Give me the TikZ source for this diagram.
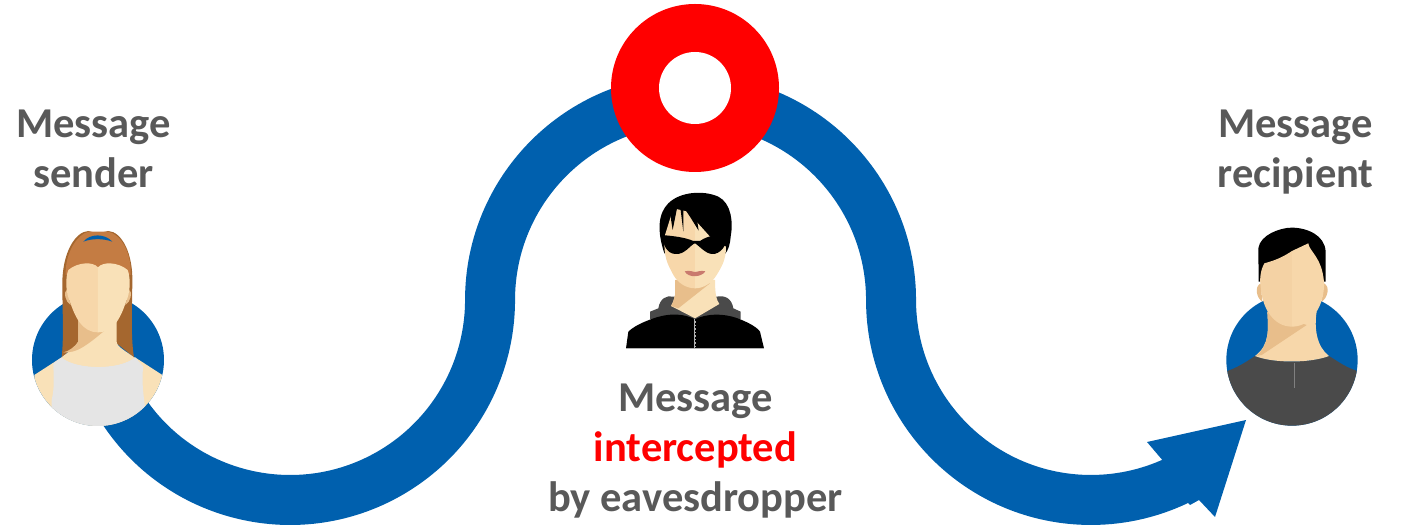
\documentclass[tikz,border=0pt]{standalone}
\usepackage{fontspec}
\setmainfont{Carlito}
\definecolor{bandblue}{HTML}{0060AE}
\definecolor{txtgray}{HTML}{595959}
\definecolor{skinA}{HTML}{F7D7AA}
\definecolor{skinB}{HTML}{F9E1B8}
\definecolor{skinS}{HTML}{E8BE8B}
\definecolor{hairD}{HTML}{A5672F}
\definecolor{hairL}{HTML}{C47C43}
\definecolor{shirtG}{HTML}{E5E5E5}
\definecolor{shirtD}{HTML}{4A4A4A}
\definecolor{lip}{HTML}{C97A6E}
\tikzset{
  lbl/.style={font=\fontsize{24.2}{26}\selectfont\bfseries,text=txtgray,inner sep=0pt,anchor=base},
  band/.style={draw=bandblue,line width=1cm,line cap=butt,line join=round},
  zoomed/.style={x=0.0066667cm,y=-0.0066667cm}
}
\begin{document}
\begin{tikzpicture}[x=0.02cm,y=-0.02cm]
\useasboundingbox (0,0) rectangle (1403,526);
% main band
\coordinate (bandstart) at (122.3,408.9);
\draw[band] (bandstart) arc[start angle=147,end angle=0,radius=200]
  arc[start angle=180,end angle=360,radius=200.5]
  arc[start angle=180,end angle=90,radius=200]
  arc[start angle=90,end angle=63,radius=200];
% arrow head
\fill[bandblue] (1246,420) -- (1147,442) -- (1164,462) -- (1160,472) -- (1190,505) -- (1199,500) -- (1215,517) -- cycle;
% interception ring
\fill[red] (695,88) circle[radius=84];
\fill[white] (695,88) circle[radius=36];
\node[lbl] (sendA) at (93.5,138) {Message};
\node[lbl] (sendB) at (93.5,188) {sender};
\node[lbl] (recA) at (1295.5,138) {Message};
\node[lbl] (recB) at (1295.5,188) {recipient};
\node[lbl] (eveA) at (695.5,412) {Message};
\node[lbl,text=red] (eveB) at (695.5,462) {intercepted};
\node[lbl] (eveC) at (695.5,512) {by eavesdropper};
% ---------- sender
\begin{scope}[shift={(0,210)},zoomed]
\fill[bandblue] (294,450) circle[radius=198];
\begin{scope}
\clip (294,450) circle[radius=198];
\fill[skinB] (103,495) -- (185,442) -- (405,442) -- (487,495) -- (487,700) -- (103,700) -- cycle;
\fill[shirtG] (185,442) .. controls (230,480) and (360,480) .. (405,442) -- (430,470) .. controls (425,500) and (428,540) .. (435,590) -- (435,700) -- (155,700) -- (155,570) .. controls (165,530) and (160,490) .. (160,460) -- cycle;
\end{scope}
\fill[hairD] (185,442) .. controls (192,380) and (187,300) .. (187,220) .. controls (187,130) and (225,65) .. (265,63) -- (294,70) -- (325,63) .. controls (365,65) and (400,130) .. (397,220) .. controls (396,300) and (392,380) .. (402,442) -- (350,400) -- (235,400) -- cycle;
\fill[skinB] (235,320) -- (235,395) .. controls (225,415) and (205,425) .. (185,442) .. controls (230,480) and (360,480) .. (402,442) .. controls (380,425) and (350,410) .. (350,395) -- (350,320) -- cycle;
\fill[skinS] (235,320) -- (235,395) .. controls (225,410) and (205,425) .. (190,427) .. controls (230,430) and (260,410) .. (350,330) -- cycle;
\fill[hairL] (197,195) .. controls (195,130) and (230,75) .. (265,65) -- (325,65) .. controls (365,75) and (395,130) .. (392,195) -- (294,170) -- cycle;
\fill[bandblue] (250,95) .. controls (270,70) and (315,70) .. (337,95) .. controls (310,85) and (275,85) .. (250,95) -- cycle;
\fill[skinS] (200,240) .. controls (190,245) and (195,275) .. (212,285) -- cycle;
\fill[skinS] (388,240) .. controls (398,245) and (393,275) .. (376,285) -- cycle;
\fill[skinA] (294,172) .. controls (280,155) and (235,155) .. (205,180) .. controls (195,205) and (198,250) .. (208,270) .. controls (225,320) and (245,367) .. (294,367) -- cycle;
\fill[skinB] (294,172) .. controls (308,155) and (353,155) .. (383,180) .. controls (393,205) and (390,250) .. (380,270) .. controls (363,320) and (343,367) .. (294,367) -- cycle;
\end{scope}
% ---------- eavesdropper
\begin{scope}[shift={(600,180)},zoomed]
\fill[shirtD] (150,418) -- (150,395) -- (175,385) .. controls (180,355) and (200,345) .. (220,350) -- (350,350) .. controls (375,345) and (395,355) .. (400,385) -- (422,395) -- (422,418) -- (285,430) -- cycle;
\fill[black] (78,505) -- (85,455) .. controls (105,435) and (145,420) .. (170,412) .. controls (210,400) and (250,400) .. (285,418) .. controls (320,400) and (370,400) .. (410,414) .. controls (440,425) and (470,440) .. (480,455) -- (492,505) -- cycle;
\fill[skinB] (225,300) -- (225,345) .. controls (222,360) and (218,370) .. (213,378) -- (285,415) -- (358,372) .. controls (350,360) and (345,345) .. (345,300) -- cycle;
\fill[skinS] (225,300) -- (225,345) .. controls (222,360) and (218,370) .. (213,378) -- (235,385) -- (330,310) -- cycle;
\fill[black] (193,220) .. controls (170,150) and (175,100) .. (205,70) .. controls (240,35) and (310,30) .. (355,50) .. controls (395,70) and (400,130) .. (392,170) .. controls (390,195) and (385,210) .. (375,222) -- cycle;
\fill[skinA] (285,100) -- (220,85) -- (195,165) .. controls (190,210) and (195,240) .. (215,275) .. controls (230,310) and (260,325) .. (285,325) -- cycle;
\fill[skinB] (285,120) -- (330,170) -- (378,200) .. controls (378,240) and (365,260) .. (350,285) .. controls (335,310) and (310,325) .. (285,325) -- cycle;
\fill[black] (208,85) -- (218,150) -- (232,80) -- (240,75) -- (250,155) -- (250,82) -- cycle;
\fill[black] (250,80) -- (270,110) -- (296,152) -- (292,125) -- (330,165) -- (380,170) -- (390,100) -- (320,50) -- cycle;
\fill[black] (185,165) .. controls (220,168) and (255,172) .. (280,183) -- (300,183) .. controls (325,165) and (355,165) .. (385,163) .. controls (382,195) and (360,225) .. (335,222) .. controls (315,220) and (295,195) .. (285,190) .. controls (270,195) and (255,225) .. (225,222) .. controls (200,220) and (190,195) .. (185,165) -- cycle;
\fill[lip] (254,274) .. controls (270,270) and (280,276) .. (285,276) .. controls (292,276) and (302,270) .. (316,274) .. controls (305,292) and (265,295) .. (254,274) -- cycle;
\draw[gray!60,line width=0.8pt] (78,505) -- (492,505);
\fill[gray!60] (281,418) rectangle (289,504);
\draw[black,line width=0.4pt,dash pattern=on 1pt off 1pt] (285,418) -- (285,504);
\end{scope}
% ---------- recipient
\begin{scope}[shift={(1130,215)},zoomed]
\fill[bandblue] (486,435) circle[radius=197];
\begin{scope}
\clip (486,435) circle[radius=197];
\fill[shirtD] (280,472) .. controls (320,460) and (350,440) .. (375,423) .. controls (430,445) and (540,445) .. (597,423) .. controls (625,440) and (650,460) .. (695,472) -- (695,650) -- (280,650) -- cycle;
\end{scope}
\draw[gray,line width=0.4pt] (493,445) -- (493,520);
\fill[skinA] (412,290) .. controls (415,340) and (420,390) .. (375,423) .. controls (430,445) and (540,445) .. (597,423) .. controls (560,395) and (552,340) .. (560,290) -- cycle;
\fill[skinS] (412,290) .. controls (415,340) and (420,390) .. (378,423) -- (395,420) -- (530,330) -- cycle;
\fill[black] (386,200) -- (385,100) .. controls (390,60) and (450,38) .. (485,38) .. controls (530,38) and (585,60) .. (587,110) -- (587,200) -- cycle;
\fill[skinS] (392,205) .. controls (372,215) and (380,250) .. (397,260) -- cycle;
\fill[skinS] (582,205) .. controls (602,215) and (592,250) .. (575,260) -- cycle;
\fill[skinA!80!skinS] (486,108) .. controls (460,125) and (440,135) .. (403,145) .. controls (392,165) and (388,190) .. (392,215) .. controls (395,270) and (425,335) .. (486,335) -- cycle;
\fill[skinA] (486,108) -- (535,85) .. controls (538,110) and (575,125) .. (582,200) .. controls (585,270) and (545,335) .. (486,335) -- cycle;
\end{scope}
\end{tikzpicture}
\end{document}
